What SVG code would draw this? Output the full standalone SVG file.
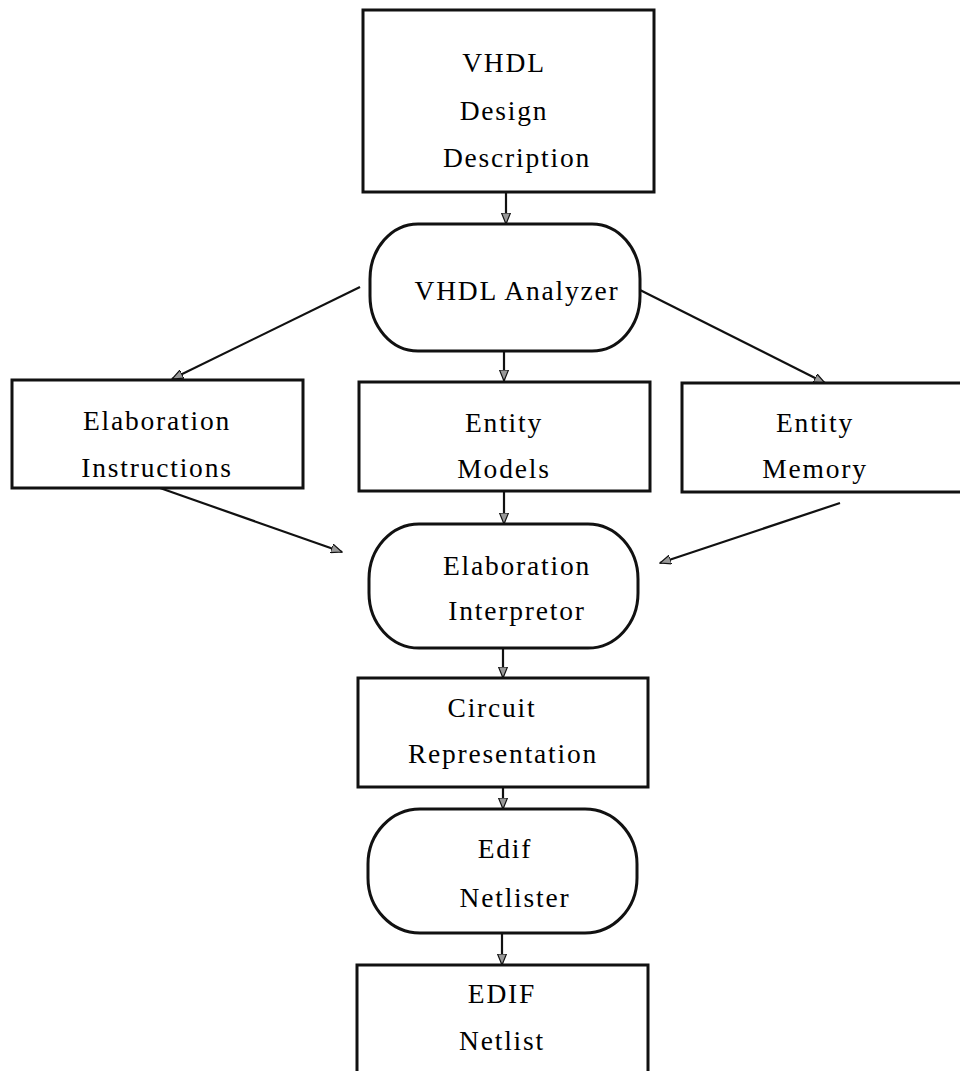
<svg xmlns="http://www.w3.org/2000/svg" width="960" height="1071" viewBox="0 0 960 1071">
<style>
.box{fill:#fff;stroke:#111;stroke-width:3}
.t{font-family:"Liberation Serif","Times New Roman",serif;font-size:27.5px;letter-spacing:1.8px;fill:#000;text-anchor:middle}
.c{stroke:#111;stroke-width:2.2;fill:none}
</style>
<defs>
<marker id="ah" viewBox="0 0 12 10" refX="11" refY="5" markerWidth="12" markerHeight="10" markerUnits="userSpaceOnUse" orient="auto">
<path d="M0,0.5 L11,5 L0,9.5 Z" fill="#999" stroke="#111" stroke-width="1.2"/>
</marker>
</defs>
<rect width="960" height="1071" fill="#fff"/>
<g id="connectors">
<line class="c" x1="506" y1="192" x2="506" y2="224" marker-end="url(#ah)"/>
<line class="c" x1="504" y1="351" x2="504" y2="381" marker-end="url(#ah)"/>
<line class="c" x1="360" y1="287" x2="172" y2="379" marker-end="url(#ah)"/>
<line class="c" x1="638" y1="289" x2="825" y2="383" marker-end="url(#ah)"/>
<line class="c" x1="504" y1="491" x2="504" y2="524" marker-end="url(#ah)"/>
<line class="c" x1="160" y1="488" x2="342" y2="552" marker-end="url(#ah)"/>
<line class="c" x1="840" y1="503" x2="660" y2="563" marker-end="url(#ah)"/>
<line class="c" x1="503" y1="648" x2="503" y2="678" marker-end="url(#ah)"/>
<line class="c" x1="503" y1="787" x2="503" y2="809" marker-end="url(#ah)"/>
<line class="c" x1="502" y1="933" x2="502" y2="965" marker-end="url(#ah)"/>
</g>
<g id="vhdl-design-description">
<rect class="box" x="363" y="10" width="291" height="182"/>
<text class="t" x="504" y="72">VHDL</text>
<text class="t" x="504" y="120">Design</text>
<text class="t" x="517" y="167">Description</text>
</g>
<g id="vhdl-analyzer">
<rect class="box" x="370" y="224" width="270" height="127" rx="48" ry="55"/>
<text class="t" x="517" y="300">VHDL Analyzer</text>
</g>
<g id="elaboration-instructions">
<rect class="box" x="12" y="380" width="291" height="108"/>
<text class="t" x="157" y="430">Elaboration</text>
<text class="t" x="157" y="477">Instructions</text>
</g>
<g id="entity-models">
<rect class="box" x="359" y="382" width="291" height="109"/>
<text class="t" x="504" y="432">Entity</text>
<text class="t" x="504" y="478">Models</text>
</g>
<g id="entity-memory">
<rect class="box" x="682" y="383" width="300" height="109"/>
<text class="t" x="815" y="432">Entity</text>
<text class="t" x="815" y="478">Memory</text>
</g>
<g id="elaboration-interpretor">
<rect class="box" x="369" y="524" width="269" height="124" rx="50" ry="55"/>
<text class="t" x="517" y="575">Elaboration</text>
<text class="t" x="517" y="620">Interpretor</text>
</g>
<g id="circuit-representation">
<rect class="box" x="358" y="678" width="290" height="109"/>
<text class="t" x="492" y="717">Circuit</text>
<text class="t" x="503" y="763">Representation</text>
</g>
<g id="edif-netlister">
<rect class="box" x="368" y="809" width="269" height="124" rx="52" ry="55"/>
<text class="t" x="505" y="858">Edif</text>
<text class="t" x="515" y="907">Netlister</text>
</g>
<g id="edif-netlist">
<rect class="box" x="357" y="965" width="291" height="120"/>
<text class="t" x="502" y="1003">EDIF</text>
<text class="t" x="502" y="1050">Netlist</text>
</g>
</svg>
